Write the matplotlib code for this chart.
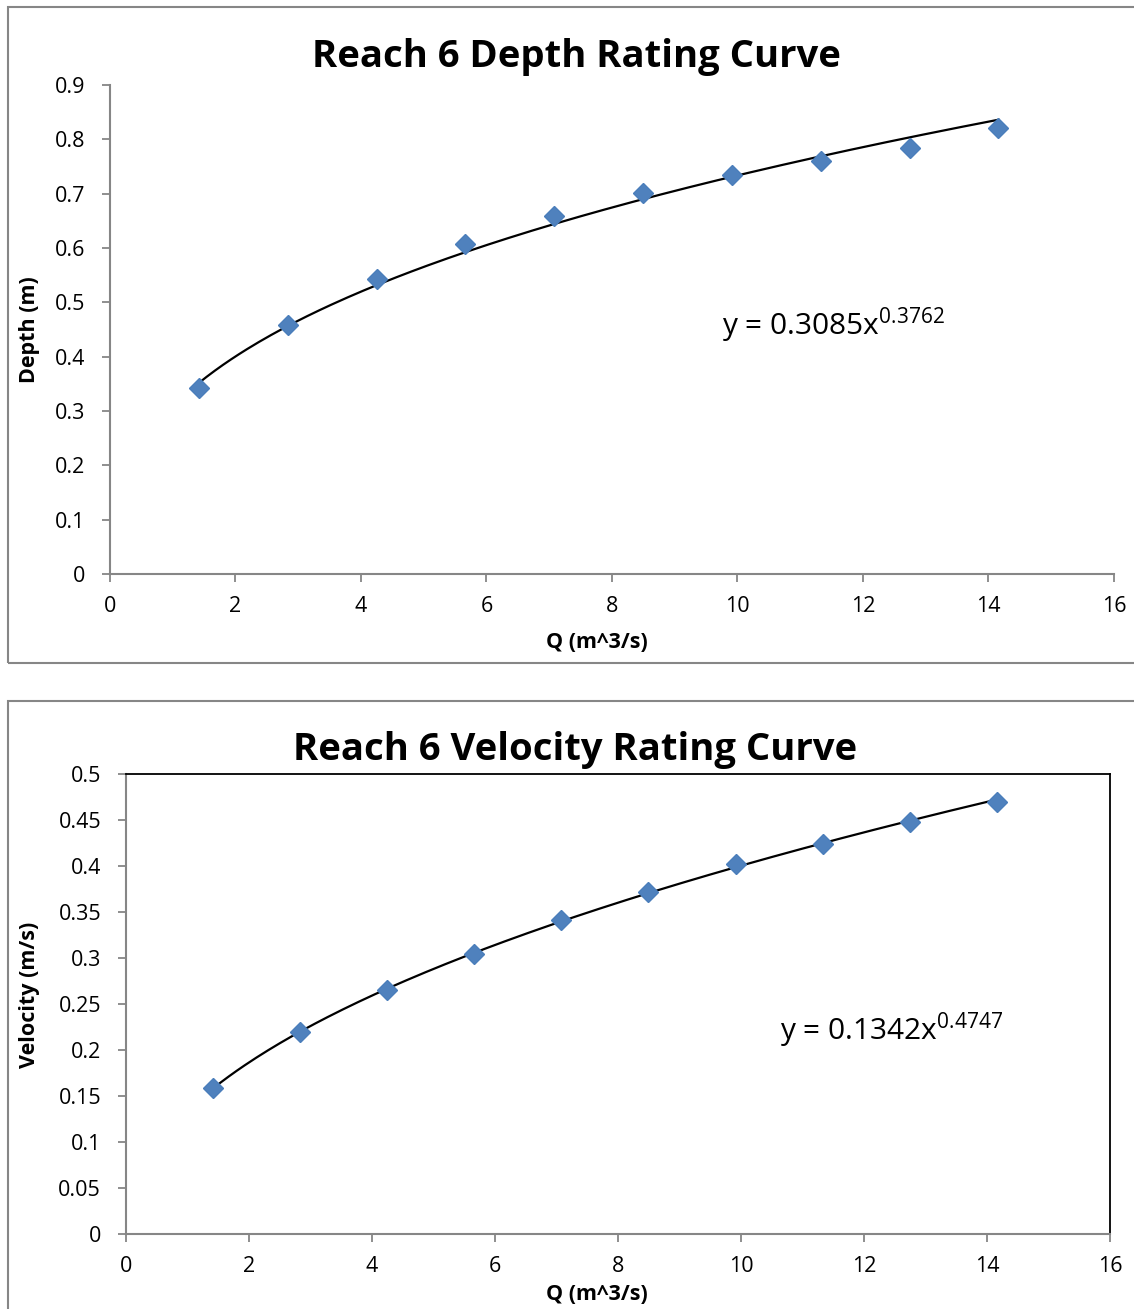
import numpy as np
import matplotlib
matplotlib.use("Agg")
from matplotlib import pyplot as plt
from matplotlib.patches import Rectangle

plt.rcParams['font.family'] = ['Open Sans', 'DejaVu Sans']
plt.rcParams['mathtext.fontset'] = 'custom'
plt.rcParams['mathtext.rm'] = 'Open Sans'
plt.rcParams['mathtext.it'] = 'Open Sans'

q = [1.416, 2.832, 4.248, 5.663, 7.079, 8.495, 9.911, 11.327, 12.743, 14.158]
profondeur = [0.342, 0.458, 0.543, 0.607, 0.659, 0.701, 0.735, 0.760, 0.784, 0.821]
vitesse = [0.159, 0.220, 0.265, 0.304, 0.341, 0.372, 0.402, 0.424, 0.448, 0.470]

# Coefficients des courbes de tendance (puissance)
coef_prof = (0.3085, 0.3762)
coef_vit = (0.1342, 0.4747)

bleu = '#4F81BD'
gris = '#868686'
W, H = 1134, 1309

fig = plt.figure(figsize=(W / 100, H / 100), dpi=100)

# cadres des graphiques
fig.patches.append(Rectangle((8 / W, 1 - 663 / H), 1.2, (663 - 7) / H,
                             transform=fig.transFigure, fill=False,
                             edgecolor=gris, linewidth=1.5))
fig.patches.append(Rectangle((8 / W, -0.1), 1.2, 0.1 + 1 - 701 / H,
                             transform=fig.transFigure, fill=False,
                             edgecolor=gris, linewidth=1.5))


def tracer(ax, y, coef, ymax, pas, boite):
    xs = np.linspace(min(q), max(q), 200)
    ax.plot(xs, coef[0] * xs ** coef[1], color='black', linewidth=1.6, zorder=2)
    ax.plot(q, y, linestyle='none', marker='D', markersize=10.5, color=bleu,
            markeredgecolor='#4A7EBB', zorder=3)
    ax.set_xlim(0, 16)
    ax.set_ylim(0, ymax)
    ax.set_xticks(np.arange(0, 17, 2))
    yt = np.arange(0, ymax + pas / 2, pas)
    ax.set_yticks(yt)
    ax.set_yticklabels([('%g' % round(v, 2)) for v in yt])
    ax.tick_params(axis='both', labelsize=15.5, color=gris, length=6, width=1.3)
    ax.tick_params(axis='x', direction='out', pad=10)
    ax.tick_params(axis='y', direction='out', pad=12)
    for s in ['left', 'bottom']:
        ax.spines[s].set_color(gris)
        ax.spines[s].set_linewidth(1.5)
    for s in ['top', 'right']:
        ax.spines[s].set_visible(boite)
        ax.spines[s].set_color('black')
        ax.spines[s].set_linewidth(1.3)


ax1 = fig.add_axes([110 / W, 1 - 574 / H, (1114 - 110) / W, (574 - 85) / H])
tracer(ax1, profondeur, coef_prof, 0.9, 0.1, False)
ax2 = fig.add_axes([126 / W, 1 - 1234 / H, (1110 - 126) / W, (1234 - 774) / H])
tracer(ax2, vitesse, coef_vit, 0.5, 0.05, True)

fig.text(576 / W, 1 - 57 / H, 'Reach 6 Depth Rating Curve', fontsize=27.5,
         fontweight='bold', ha='center', va='center')
fig.text(575 / W, 1 - 750 / H, 'Reach 6 Velocity Rating Curve', fontsize=27.5,
         fontweight='bold', ha='center', va='center')

fig.text(597 / W, 1 - 643 / H, 'Q (m^3/s)', fontsize=15.5, fontweight='bold',
         ha='center', va='center')
fig.text(597 / W, 1 - 1295 / H, 'Q (m^3/s)', fontsize=15.5, fontweight='bold',
         ha='center', va='center')
fig.text(30 / W, 1 - 330 / H, 'Depth (m)', fontsize=15.5, fontweight='bold',
         rotation=90, ha='center', va='center')
fig.text(30 / W, 1 - 995 / H, 'Velocity (m/s)', fontsize=15.5, fontweight='bold',
         rotation=90, ha='center', va='center')

fig.text(722 / W, 1 - 335 / H, r'y = 0.3085x$^{0.3762}$', fontsize=21.5,
         ha='left', va='baseline')
fig.text(780 / W, 1 - 1040 / H, r'y = 0.1342x$^{0.4747}$', fontsize=21.5,
         ha='left', va='baseline')

fig.savefig('out.png', dpi=100)
